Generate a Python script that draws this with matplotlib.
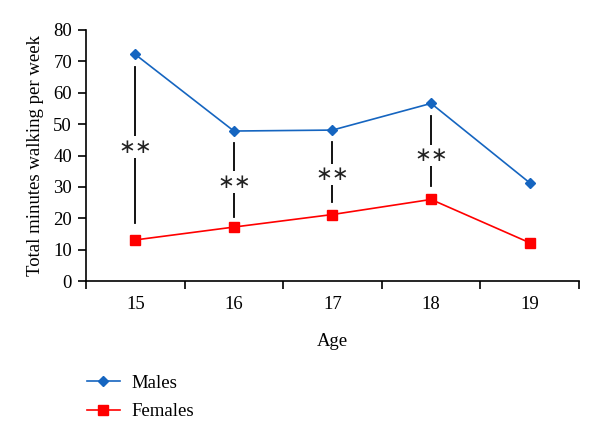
import matplotlib
matplotlib.use("Agg")
import matplotlib.pyplot as plt

ages = ["15", "16", "17", "18", "19"]
males = [72.2, 47.8, 48.1, 56.6, 31.3]
females = [13.1, 17.2, 21.2, 26.0, 12.2]
# significance markers: (category index, line top, line bottom, label y)
sig_idx = [0, 1, 2, 3]
sig_top = [68.3, 44.0, 44.3, 52.5]
sig_bot = [18.6, 20.4, 25.2, 30.2]
sig_lab = [42.7, 31.5, 34.0, 40.0]

plt.rcParams['font.family'] = ['Liberation Serif', 'DejaVu Serif']
FS = 13.5

fig = plt.figure(figsize=(6.0, 4.22), dpi=100)
ax = fig.add_axes([0.1433, 0.334, 0.8217, 0.595])

x = list(range(len(ages)))
blue = "#1565C0"
red = "#FF0000"
ax.plot(x, males, color=blue, lw=1.2, marker="D", ms=5.5, label="Males")
ax.plot(x, females, color=red, lw=1.2, marker="s", ms=6.5, label="Females")

for i, t, b, l in zip(sig_idx, sig_top, sig_bot, sig_lab):
    ax.plot([i, i], [b, t], color="black", lw=1.3, zorder=1)
    ax.text(i, l, "\u2217\u2217", ha="center", va="center", fontsize=14.5,
            family=["DejaVu Sans"], color="#222222",
            bbox=dict(facecolor="white", edgecolor="none", pad=0.8), zorder=2)

ax.set_xlim(-0.5, 4.5)
ax.set_ylim(0, 80)
ax.set_yticks(range(0, 81, 10))
ax.set_xticks([v - 0.5 for v in range(6)], minor=False)
ax.set_xticklabels([])
ax.set_xticks(x, minor=True)
ax.set_xticklabels(ages, minor=True, fontsize=FS)
ax.tick_params(axis="x", which="minor", length=0, pad=11)
ax.tick_params(axis="x", which="major", direction="out", length=6, width=1.2)
ax.tick_params(axis="y", direction="out", length=6, width=1.2, labelsize=FS, pad=4)
for s in ["top", "right"]:
    ax.spines[s].set_visible(False)
for s in ["left", "bottom"]:
    ax.spines[s].set_linewidth(1.2)
ax.set_xlabel("Age", fontsize=FS, labelpad=14)
ax.set_ylabel("Total minutes walking per week", fontsize=FS, labelpad=7)

ax.legend(loc="upper left", bbox_to_anchor=(0.145, 0.112), bbox_transform=fig.transFigure,
          frameon=False, fontsize=FS, handlelength=1.75, handletextpad=0.6, labelspacing=0.6,
          borderaxespad=0, borderpad=0)

fig.savefig("out.png", dpi=100)
